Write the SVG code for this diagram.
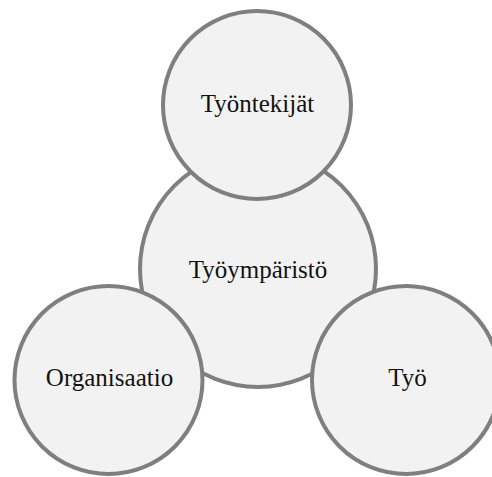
<svg xmlns="http://www.w3.org/2000/svg" width="492" height="477" viewBox="0 0 492 477">
  <style>
    .node circle { fill: #f2f2f2; stroke: #7f7f7f; stroke-width: 4; }
    .node text { font-family: "Liberation Serif", "Times New Roman", serif; font-size: 25px; fill: #111111; text-anchor: middle; }
  </style>
  <rect width="492" height="477" fill="#ffffff"/>
  <g id="connectors"></g>
  <g id="tyoymparisto" class="node">
    <circle cx="258" cy="269" r="118"/>
    <text x="258" y="277.5">Työympäristö</text>
  </g>
  <g id="tyontekijat" class="node">
    <circle cx="257" cy="105" r="94"/>
    <text x="257.5" y="112">Työntekijät</text>
  </g>
  <g id="organisaatio" class="node">
    <circle cx="108.5" cy="380" r="94"/>
    <text x="109.5" y="386">Organisaatio</text>
  </g>
  <g id="tyo" class="node">
    <circle cx="406" cy="380" r="94"/>
    <text x="407.5" y="386">Työ</text>
  </g>
</svg>
